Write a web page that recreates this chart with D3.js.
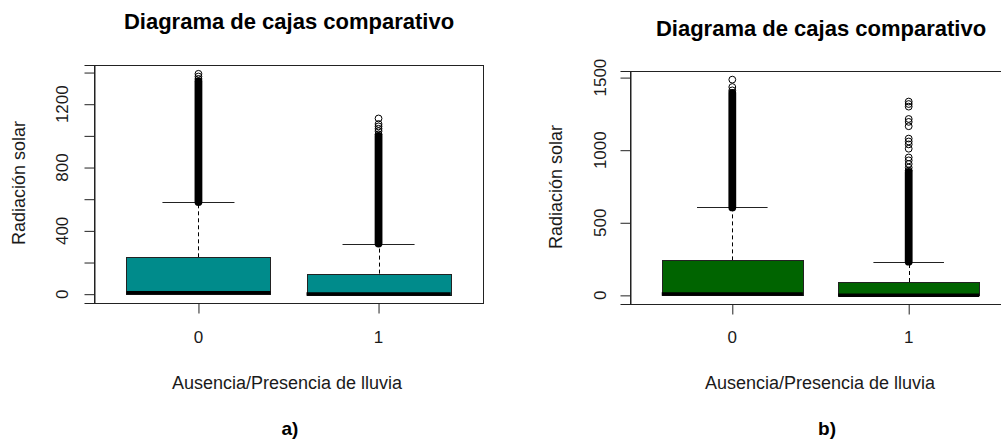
<!DOCTYPE html>
<html>
<head>
<meta charset="utf-8">
<script src="https://cdn.jsdelivr.net/npm/d3@7"></script>
<style>
  body { margin: 0; background: #fff; }
  text { font-family: "Liberation Sans", Arial, sans-serif; fill: #1a1a1a; }
</style>
</head>
<body>
<script>

var width = 1001,
    height = 442;

// categories on the x axis
var categories = ['0', '1'];

// panel a) box statistics
var q1A = [0, 0];
var medA = [9, 1];
var q3A = [233, 130];
var whiskA = [582, 320];
// dense runs of overlapping outliers [from, to], and separate outliers
var denseA = [[582, 1345], [320, 1000]];
var sparseA = [[1360, 1375, 1392], [1010, 1030, 1045, 1060, 1075, 1110]];
var ticksA = [0, 200, 400, 600, 800, 1000, 1200, 1400];
var labelsA = [0, 400, 800, 1200];

// panel b) box statistics
var q1B = [0, 0];
var medB = [9, 1];
var q3B = [241, 92];
var whiskB = [606, 232];
var denseB = [[606, 1395], [232, 850]];
var sparseB = [[1412, 1435, 1486],
    [860, 880, 905, 930, 950, 1010, 1040, 1060, 1080, 1165, 1195, 1215, 1300, 1318, 1335]];
var ticksB = [0, 500, 1000, 1500];
var labelsB = [0, 500, 1000, 1500];

var dotR = 3.4;

var svg = d3.select('body')
    .append('svg')
    .attr('width', width)
    .attr('height', height)
    .style('display', 'block')
    .style('background', '#fff');

var drawPanel = function(p) {

    var g = svg.append('g');

    var allVals = [0];
    p.dense.forEach(function(d) { allVals.push(d[1]); });
    p.sparse.forEach(function(d) { allVals = allVals.concat(d); });
    var lo = d3.min(allVals), hi = d3.max(allVals);
    var pad = (hi - lo) * 0.04;

    var x = d3.scaleLinear()
        .domain([0.42, 2.58])
        .range([p.left, p.right]);

    var y = d3.scaleLinear()
        .domain([lo - pad, hi + pad])
        .range([p.bottom, p.top]);

    var boxW = x(1.4) - x(1);

    var data = categories.map(function(c, i) {
        return {
            pos: i + 1,
            q1: p.q1[i], med: p.med[i], q3: p.q3[i], whisk: p.whisk[i],
            dense: p.dense[i], sparse: p.sparse[i]
        };
    });

    // title
    g.append('text')
        .attr('x', p.titleX)
        .attr('y', p.titleY)
        .attr('text-anchor', 'middle')
        .style('font-size', '22px')
        .style('font-weight', 'bold')
        .style('fill', '#000')
        .text('Diagrama de cajas comparativo');

    // dashed whiskers
    g.selectAll('line.whisk')
        .data(data)
        .enter()
        .append('line')
        .attr('x1', function(d) { return Math.round(x(d.pos)) + 0.5; })
        .attr('x2', function(d) { return Math.round(x(d.pos)) + 0.5; })
        .attr('y1', function(d) { return y(d.q3); })
        .attr('y2', function(d) { return y(d.whisk); })
        .attr('stroke', '#000')
        .attr('stroke-dasharray', '4,3');

    // staples
    g.selectAll('line.staple')
        .data(data)
        .enter()
        .append('line')
        .attr('x1', function(d) { return x(d.pos) - boxW / 2; })
        .attr('x2', function(d) { return x(d.pos) + boxW / 2; })
        .attr('y1', function(d) { return Math.round(y(d.whisk)) + 0.5; })
        .attr('y2', function(d) { return Math.round(y(d.whisk)) + 0.5; })
        .attr('stroke', '#222');

    // outliers, dense part
    g.selectAll('rect.dense')
        .data(data)
        .enter()
        .append('rect')
        .attr('x', function(d) { return x(d.pos) - dotR - 0.5; })
        .attr('width', dotR * 2 + 1)
        .attr('y', function(d) { return y(d.dense[1]) - dotR - 0.5; })
        .attr('height', function(d) { return y(d.dense[0]) - y(d.dense[1]) + dotR * 2 + 1; })
        .attr('rx', dotR + 0.5)
        .attr('fill', '#000');

    // outliers, single points
    data.forEach(function(d) {
        g.selectAll(null)
            .data(d.sparse)
            .enter()
            .append('circle')
            .attr('cx', x(d.pos))
            .attr('cy', function(v) { return y(v); })
            .attr('r', dotR)
            .attr('fill', 'none')
            .attr('stroke', '#000')
            .attr('stroke-width', 1);
    });

    // boxes
    g.selectAll('rect.box')
        .data(data)
        .enter()
        .append('rect')
        .attr('x', function(d) { return Math.round(x(d.pos) - boxW) + 0.5; })
        .attr('width', Math.round(boxW * 2))
        .attr('y', function(d) { return Math.round(y(d.q3)) + 0.5; })
        .attr('height', function(d) { return Math.round(y(d.q1) - y(d.q3)); })
        .attr('fill', p.color)
        .attr('stroke', '#222')
        .attr('stroke-width', 1);

    // medians
    g.selectAll('line.med')
        .data(data)
        .enter()
        .append('line')
        .attr('x1', function(d) { return x(d.pos) - boxW; })
        .attr('x2', function(d) { return x(d.pos) + boxW; })
        .attr('y1', function(d) { return y(d.med); })
        .attr('y2', function(d) { return y(d.med); })
        .attr('stroke', '#000')
        .attr('stroke-width', 3.5);

    // frame (right side may run past the page edge)
    g.append('rect')
        .attr('x', Math.round(p.left) + 0.5)
        .attr('y', Math.round(p.top) + 0.5)
        .attr('width', Math.round(p.right - p.left))
        .attr('height', Math.round(p.bottom - p.top))
        .attr('fill', 'none')
        .attr('stroke', '#222');

    // y axis
    var yAxis = d3.axisLeft(y)
        .tickValues(p.ticks)
        .tickSize(10)
        .tickFormat('');
    var ya = g.append('g')
        .attr('transform', 'translate(' + (Math.round(p.left) + 0.5) + ',0)')
        .call(yAxis);
    ya.select('.domain').attr('stroke', '#222');
    ya.selectAll('.tick line').attr('stroke', '#222');

    g.selectAll('text.ylab')
        .data(p.labels)
        .enter()
        .append('text')
        .attr('transform', function(d) {
            return 'translate(' + p.tickLabX + ',' + y(d) + ') rotate(-90)';
        })
        .attr('text-anchor', 'middle')
        .style('font-size', '17px')
        .text(function(d) { return d; });

    // x axis ticks
    var xAxis = d3.axisBottom(x)
        .tickValues([1, 2])
        .tickSize(10)
        .tickFormat('');
    var xa = g.append('g')
        .attr('transform', 'translate(0,' + (Math.round(p.bottom) + 0.5) + ')')
        .call(xAxis);
    xa.select('.domain').remove();
    xa.selectAll('.tick line').attr('stroke', '#222');

    g.selectAll('text.xlab')
        .data(data)
        .enter()
        .append('text')
        .attr('x', function(d) { return x(d.pos); })
        .attr('y', 343)
        .attr('text-anchor', 'middle')
        .style('font-size', '17px')
        .text(function(d, i) { return categories[i]; });

    // axis titles
    g.append('text')
        .attr('x', p.xTitleX)
        .attr('y', 389)
        .attr('text-anchor', 'middle')
        .style('font-size', '18px')
        .text('Ausencia/Presencia de lluvia');

    g.append('text')
        .attr('transform', 'translate(' + p.yTitleX + ',' + p.yTitleY + ') rotate(-90)')
        .attr('text-anchor', 'middle')
        .style('font-size', '18px')
        .text('Radiación solar');

    // panel letter
    g.append('text')
        .attr('x', p.letterX)
        .attr('y', 435)
        .attr('text-anchor', 'middle')
        .style('font-size', '19px')
        .style('font-weight', 'bold')
        .style('fill', '#000')
        .text(p.letter);
};

drawPanel({
    left: 94, right: 483, top: 65, bottom: 303,
    q1: q1A, med: medA, q3: q3A, whisk: whiskA,
    dense: denseA, sparse: sparseA,
    ticks: ticksA, labels: labelsA,
    color: '#008b8b',
    titleX: 289, titleY: 28.5,
    tickLabX: 68, yTitleX: 25, yTitleY: 183,
    xTitleX: 287, letterX: 290, letter: 'a)'
});

drawPanel({
    left: 630, right: 1011, top: 71, bottom: 304,
    q1: q1B, med: medB, q3: q3B, whisk: whiskB,
    dense: denseB, sparse: sparseB,
    ticks: ticksB, labels: labelsB,
    color: '#006400',
    titleX: 821, titleY: 36,
    tickLabX: 606, yTitleX: 562, yTitleY: 187,
    xTitleX: 820, letterX: 827, letter: 'b)'
});

</script>
</body>
</html>
